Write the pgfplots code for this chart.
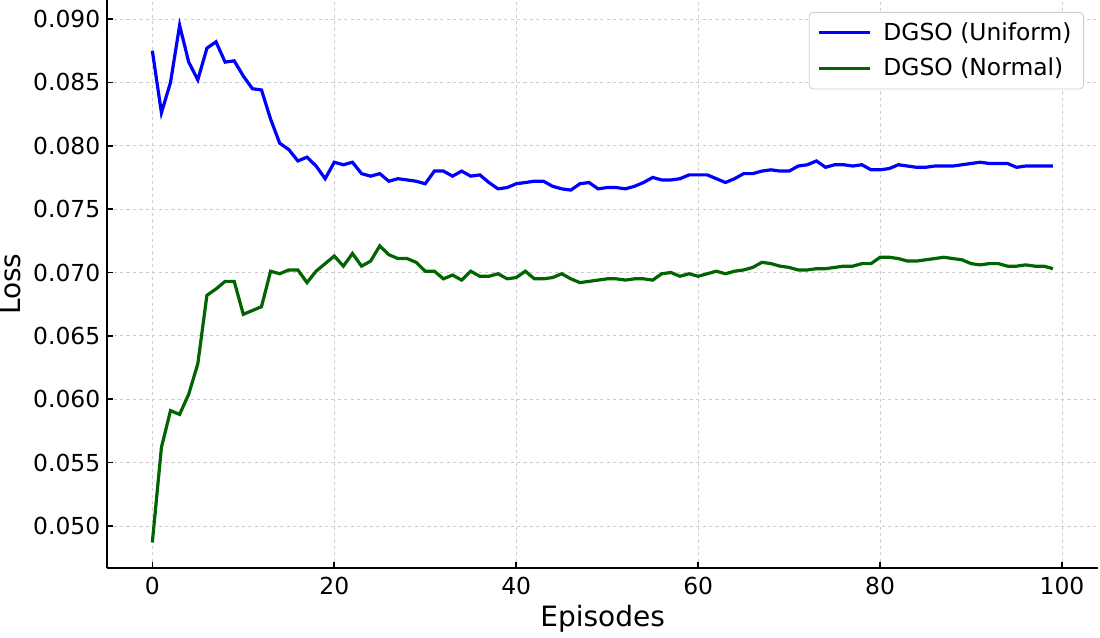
\documentclass[border=0pt]{standalone}
\usepackage{fontspec}
\setmainfont{DejaVu Sans}
\usepackage{pgfplots}
\pgfplotsset{compat=1.18}
\usepackage{pgfplotstable}

\definecolor{lineblue}{RGB}{0,0,255}
\definecolor{linegreen}{RGB}{0,100,0}

% episode, loss (uniform), loss (normal)
\pgfplotstableread{
ep  uni     nor
0   0.0875  0.0487
1   0.0826  0.0562
2   0.0850  0.0591
3   0.0895  0.0588
4   0.0866  0.0604
5   0.0852  0.0628
6   0.0877  0.0682
7   0.0882  0.0687
8   0.0866  0.0693
9   0.0867  0.0693
10  0.0855  0.0667
11  0.0845  0.0670
12  0.0844  0.0673
13  0.0821  0.0701
14  0.0802  0.0699
15  0.0797  0.0702
16  0.0788  0.0702
17  0.0791  0.0692
18  0.0784  0.0701
19  0.0774  0.0707
20  0.0787  0.0713
21  0.0785  0.0705
22  0.0787  0.0715
23  0.0778  0.0705
24  0.0776  0.0709
25  0.0778  0.0721
26  0.0772  0.0714
27  0.0774  0.0711
28  0.0773  0.0711
29  0.0772  0.0708
30  0.0770  0.0701
31  0.0780  0.0701
32  0.0780  0.0695
33  0.0776  0.0698
34  0.0780  0.0694
35  0.0776  0.0701
36  0.0777  0.0697
37  0.0771  0.0697
38  0.0766  0.0699
39  0.0767  0.0695
40  0.0770  0.0696
41  0.0771  0.0701
42  0.0772  0.0695
43  0.0772  0.0695
44  0.0768  0.0696
45  0.0766  0.0699
46  0.0765  0.0695
47  0.0770  0.0692
48  0.0771  0.0693
49  0.0766  0.0694
50  0.0767  0.0695
51  0.0767  0.0695
52  0.0766  0.0694
53  0.0768  0.0695
54  0.0771  0.0695
55  0.0775  0.0694
56  0.0773  0.0699
57  0.0773  0.0700
58  0.0774  0.0697
59  0.0777  0.0699
60  0.0777  0.0697
61  0.0777  0.0699
62  0.0774  0.0701
63  0.0771  0.0699
64  0.0774  0.0701
65  0.0778  0.0702
66  0.0778  0.0704
67  0.0780  0.0708
68  0.0781  0.0707
69  0.0780  0.0705
70  0.0780  0.0704
71  0.0784  0.0702
72  0.0785  0.0702
73  0.0788  0.0703
74  0.0783  0.0703
75  0.0785  0.0704
76  0.0785  0.0705
77  0.0784  0.0705
78  0.0785  0.0707
79  0.0781  0.0707
80  0.0781  0.0712
81  0.0782  0.0712
82  0.0785  0.0711
83  0.0784  0.0709
84  0.0783  0.0709
85  0.0783  0.0710
86  0.0784  0.0711
87  0.0784  0.0712
88  0.0784  0.0711
89  0.0785  0.0710
90  0.0786  0.0707
91  0.0787  0.0706
92  0.0786  0.0707
93  0.0786  0.0707
94  0.0786  0.0705
95  0.0783  0.0705
96  0.0784  0.0706
97  0.0784  0.0705
98  0.0784  0.0705
99  0.0784  0.0703
}\losstable

\begin{document}
\begin{tikzpicture}
\useasboundingbox (0,0) rectangle (550pt,319pt);
\begin{axis}[
    at={(53.65pt,34.85pt)}, anchor=south west,
    scale only axis,
    width=495.35pt, height=284.15pt,
    xmin=-4.95, xmax=103.95,
    ymin=0.04666, ymax=0.0915,
    axis x line*=bottom, axis y line*=left,
    axis line style={-, line width=0.8pt},
    xtick={0,20,40,60,80,100},
    ytick={0.050,0.055,0.060,0.065,0.070,0.075,0.080,0.085,0.090},
    scaled y ticks=false,
    tick align=inside,
    major tick length=3pt,
    tick style={black, line width=0.8pt},
    /pgf/number format/assume math mode=true,
    yticklabel style={/pgf/number format/.cd, fixed, fixed zerofill, precision=3},
    ticklabel style={font=\fontsize{11.7}{14}\selectfont},
    xticklabel style={yshift=-1pt},
    grid=major,
    grid style={gray!40, dash pattern=on 1.6pt off 1.6pt, line width=0.4pt},
    xlabel={Episodes},
    ylabel={Loss},
    label style={font=\fontsize{14}{16}\selectfont},
    xlabel style={at={(axis description cs:0.5,-0.1017)}, anchor=base},
    ylabel style={at={(axis description cs:-0.0881,0.5)}, anchor=base},
    legend style={at={(axis description cs:1,1)}, anchor=north east,
        xshift=-7pt, yshift=-6pt,
        draw=gray!40, rounded corners=2pt, fill=white,
        font=\fontsize{11.7}{14}\selectfont,
        row sep=3.5pt, inner xsep=4pt, inner ysep=3pt,
        /tikz/every odd column/.append style={column sep=4pt}},
    legend cell align=left,
    legend image code/.code={\draw[#1] (0pt,0pt) -- (25.5pt,0pt);},
]
\addplot[lineblue, line width=1.6pt] table[x=ep, y=uni] {\losstable};
\addlegendentry{DGSO (Uniform)}
\addplot[linegreen, line width=1.6pt] table[x=ep, y=nor] {\losstable};
\addlegendentry{DGSO (Normal)}
\end{axis}
\end{tikzpicture}
\end{document}
